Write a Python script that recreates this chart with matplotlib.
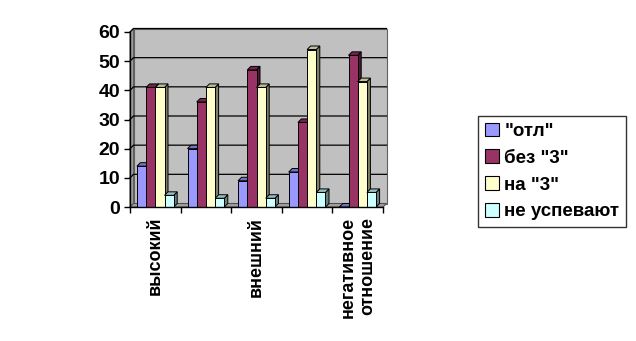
import matplotlib
matplotlib.use("Agg")
import matplotlib.pyplot as plt
import numpy as np
from matplotlib.patches import Polygon, Patch

plt.rcParams["font.family"] = ["Liberation Sans", "DejaVu Sans"]
plt.rcParams["font.weight"] = "bold"

categories = ["высокий", "", "внешний", "", "негативное\nотношение"]
series = ['"отл"', 'без "3"', 'на "3"', "не успевают"]
otl = [14, 20, 9, 12, 0]
bez3 = [41, 36, 47, 29, 52]
na3 = [41, 41, 41, 54, 43]
ne_usp = [4, 3, 3, 5, 5]
values = [otl, bez3, na3, ne_usp]
colors = ["#9999FF", "#993366", "#FFFFCC", "#CCFFFF"]

W, H = 636, 341
fig = plt.figure(figsize=(W / 100, H / 100), dpi=100)
# front plane of the 3-D box, in pixels
x0, x1, y0, y1 = 130, 383, 207, 32
ax = fig.add_axes([x0 / W, (H - y0) / H, (x1 - x0) / W, (y0 - y1) / H])
ax.set_xlim(0, 5)
ax.set_ylim(0, 60)

dx = 3.5 / ((x1 - x0) / 5)
dy = 3.5 / ((y0 - y1) / 60)


def shade(c, f):
    r, g, b = matplotlib.colors.to_rgb(c)
    return (r * f, g * f, b * f)


# back wall, side wall and floor
wall = "#C0C0C0"
ax.add_patch(Polygon([(dx, dy), (5 + dx, dy), (5 + dx, 60 + dy), (dx, 60 + dy)],
                     closed=True, fc=wall, ec="#606060", lw=0.8, clip_on=False, zorder=0))
ax.add_patch(Polygon([(0, 0), (dx, dy), (dx, 60 + dy), (0, 60)],
                     closed=True, fc="#A0A0A0", ec="#606060", lw=0.8, clip_on=False, zorder=0))
for yv in range(10, 61, 10):
    ax.plot([0, dx, 5 + dx], [yv, yv + dy, yv + dy], color="black", lw=0.9,
            clip_on=False, zorder=0.5)
ax.add_patch(Polygon([(0, 0), (5, 0), (5 + dx, dy), (dx, dy)],
                     closed=True, fc="#A0A0A0", ec="#505050", lw=0.8, clip_on=False, zorder=0.6))

# 3-D bars, gap width 150%
n = len(series)
bw = 1 / (n + 1.5)
start = 0.75 * bw
z = 1
for ci in range(len(categories)):
    for si in range(n):
        v = values[si][ci]
        left = ci + start + si * bw
        right = left + bw
        c = colors[si]
        side = [(right, 0), (right + dx, dy), (right + dx, v + dy), (right, v)]
        top = [(left, v), (right, v), (right + dx, v + dy), (left + dx, v + dy)]
        ax.add_patch(Polygon(side, closed=True, fc=shade(c, 0.5), ec="black", lw=0.7,
                             clip_on=False, zorder=z))
        ax.add_patch(Polygon(top, closed=True, fc=shade(c, 0.75), ec="black", lw=0.7,
                             clip_on=False, zorder=z))
        ax.bar(left, v, width=bw, align="edge", color=c, edgecolor="black", lw=0.7,
               zorder=z + 0.5, clip_on=False)
        z += 1

for s in ["top", "right"]:
    ax.spines[s].set_visible(False)
ax.spines["left"].set_linewidth(1.0)
ax.spines["bottom"].set_linewidth(1.0)
ax.spines["left"].set_zorder(100)
ax.spines["bottom"].set_zorder(100)

ax.set_yticks(range(0, 61, 10))
ax.tick_params(axis="y", length=4, width=1, labelsize=14, pad=3)
ax.set_xticks(np.arange(0, 6))
ax.set_xticklabels([])
ax.tick_params(axis="x", which="major", length=4, width=1)
ax.set_xticks(np.arange(5) + 0.5, minor=True)
ax.set_xticklabels(categories, minor=True, rotation=90, fontsize=13,
                   va="top", ha="center", multialignment="right")
ax.tick_params(axis="x", which="minor", length=0, pad=7)

handles = [Patch(fc=c, ec="black", lw=0.8) for c in colors]
leg = fig.legend(handles, series, loc="upper left",
                 bbox_to_anchor=(478 / W, 1 - 116 / H), fontsize=13.5,
                 frameon=True, fancybox=False, handlelength=0.75, handleheight=0.75,
                 handletextpad=0.3, labelspacing=0.5, borderpad=0.35,
                 borderaxespad=0)
leg.get_frame().set_edgecolor("black")
leg.get_frame().set_linewidth(1.0)

fig.savefig("out.png", dpi=100)
